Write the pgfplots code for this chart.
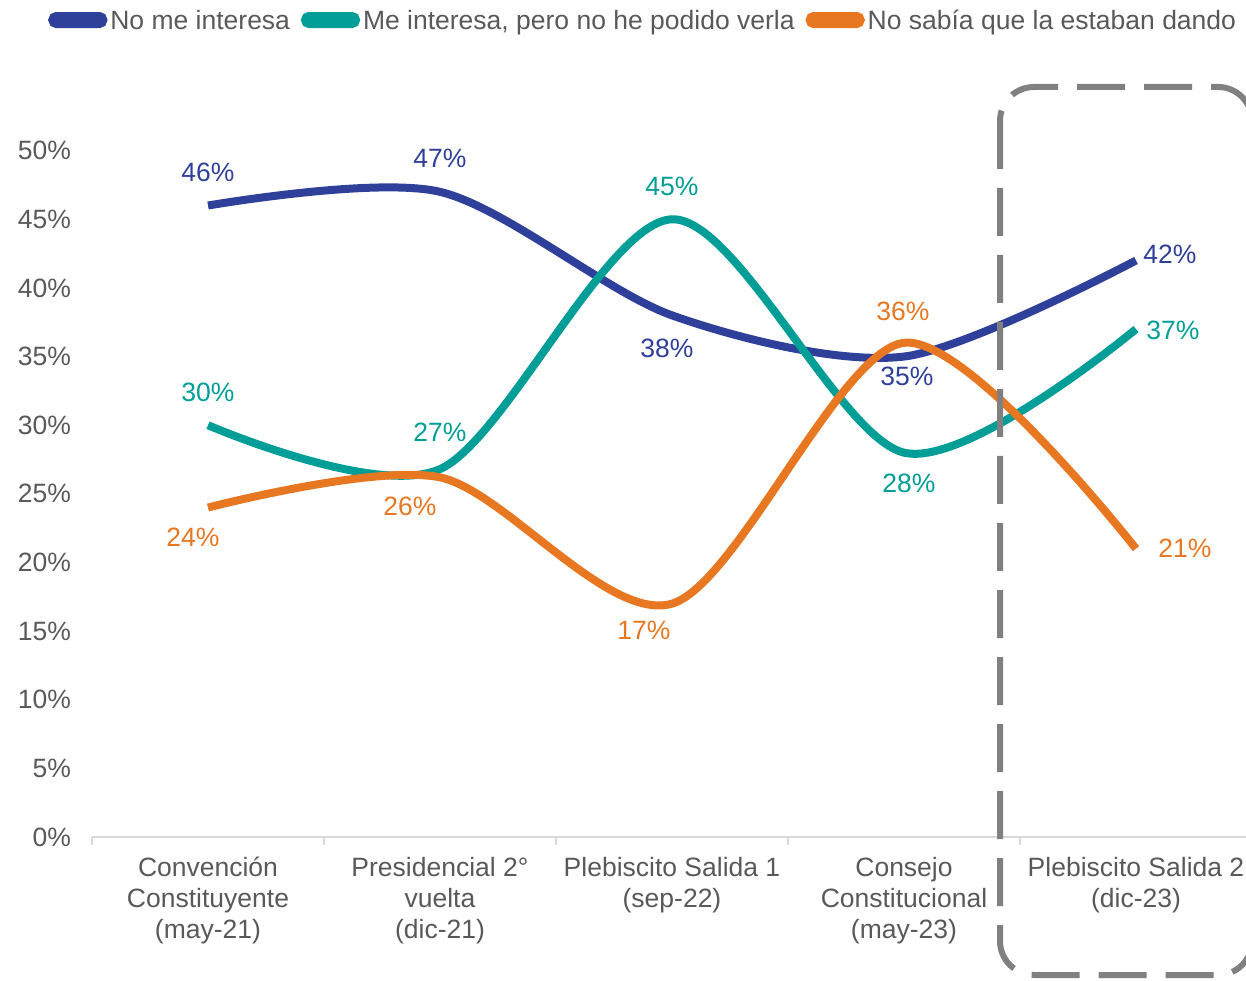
\documentclass[border=0pt]{standalone}
\usepackage{pgfplots}
\pgfplotsset{compat=1.18}
\usepackage{pgfplotstable}
\usepackage{fontspec}
\setmainfont{Liberation Sans}

\definecolor{cblue}{RGB}{46,64,154}
\definecolor{cteal}{RGB}{0,158,150}
\definecolor{corange}{RGB}{232,119,34}
\definecolor{textgray}{RGB}{89,89,89}
\definecolor{axisgray}{RGB}{217,217,217}
\definecolor{boxgray}{RGB}{128,128,128}
\newcommand\cf{\fontsize{13.25}{15.5}\selectfont}

% x = category, y = value, lab = shown label, dx/dy = label offset (pt)
\pgfplotstableread{
x y lab dx dy
0 46 46 0 16.5
1 47 47 0 16.5
2 38 38 -2.5 -16.7
3 35 35 1.5 -10
4 42 42 17 3
}\tblue
\pgfplotstableread{
x y lab dx dy
0 30 30 0 16.5
1 26.8 27 0 18.5
2 45 45 0 16.3
3 28 28 2.5 -15.5
4 37 37 18.5 -0.75
}\tteal
\pgfplotstableread{
x y lab dx dy
0 24 24 -7.5 -15
1 26.2 26 -15 -14.5
2 17 17 -14 -13.5
3 36 36 -0.5 15.5
4 21 21 24.5 0
}\torange

\begin{document}
\begin{tikzpicture}
\begin{axis}[
  scale only axis, width=580pt, height=377.5pt,
  xmin=-0.5, xmax=4.5, ymin=0, ymax=55,
  axis lines*=left,
  y axis line style={draw=none},
  x axis line style={draw=axisgray, line width=1pt},
  xtick={0,...,4},
  xticklabels={
    {\rule{0pt}{13pt}Convención\\Constituyente\\(may-21)},
    {\rule{0pt}{13pt}Presidencial 2°\\vuelta\\(dic-21)},
    {\rule{0pt}{13pt}Plebiscito Salida 1\\(sep-22)},
    {\rule{0pt}{13pt}Consejo\\Constitucional\\(may-23)},
    {\rule{0pt}{13pt}Plebiscito Salida 2\\(dic-23)}},
  minor xtick={-0.5,0.5,1.5,2.5,3.5},
  major tick length=0pt, minor tick length=4pt, tick align=outside,
  every minor tick/.append style={draw=axisgray, line width=1pt},
  ytick={0,5,...,50},
  yticklabel={\pgfmathprintnumber{\tick}\%},
  /pgf/number format/assume math mode=true,
  tick label style={font=\cf, text=textgray},
  yticklabel style={xshift=-7pt},
  xticklabel style={align=center, anchor=north, yshift=-3pt},
  clip=false,
  legend columns=3,
  legend style={at={(-0.0380,1.0821)}, anchor=west, draw=none, fill=none,
    inner sep=0pt, font=\cf, text=textgray,
    nodes={inner sep=1.5pt, text height=9.4pt, text depth=0pt},
    /tikz/every even column/.append style={column sep=4pt}},
  legend cell align=left,
  legend image code/.code={
    \fill[rounded corners=2pt] (0pt,-2pt) rectangle (25.5pt,2pt);},
  point meta=explicit,
  nodes near coords={\pgfmathprintnumber{\pgfplotspointmeta}\%},
  visualization depends on={\thisrow{dx} \as \dx},
  visualization depends on={\thisrow{dy} \as \dy},
  every node near coord/.append style={font=\cf, anchor=center,
    xshift=\dx pt, yshift=\dy pt},
]
\addplot[cblue, line width=4pt, smooth] table[x=x, y=y, meta=lab] {\tblue};
\addlegendentry{No me interesa}
\addplot[cteal, line width=4pt, smooth] table[x=x, y=y, meta=lab] {\tteal};
\addlegendentry{Me interesa, pero no he podido verla}
\addplot[corange, line width=4pt, smooth] table[x=x, y=y, meta=lab] {\torange};
\addlegendentry{No sabía que la estaban dando}
\end{axis}
\draw[boxgray, line width=3pt, dash pattern=on 24pt off 9.5pt, rounded corners=17pt]
  (454pt,375pt) rectangle (580pt,-69pt);
\pgfresetboundingbox
\path[use as bounding box] (-46pt,-71.5pt) rectangle (577pt,418.5pt);
\end{tikzpicture}
\end{document}
